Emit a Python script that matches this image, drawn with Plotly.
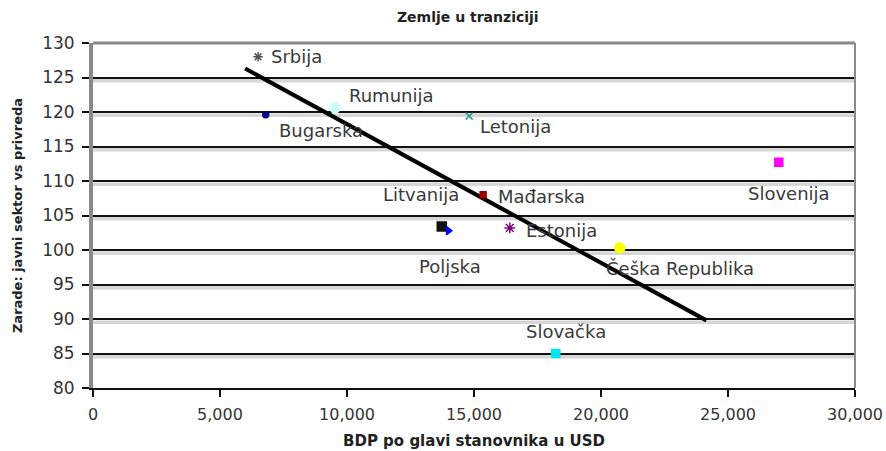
import plotly.graph_objects as go

# ---- data ----
countries = ["Srbija", "Bugarska", "Rumunija", "Letonija", "Slovenija", "Mađarska",
             "Litvanija", "Poljska", "Estonija", "Češka Republika", "Slovačka"]
gdp = [6500, 6800, 9530, 14810, 27000, 15360, 13730, 13990, 16410, 20740, 18220]
wages = [128.0, 119.6, 120.6, 119.4, 112.7, 108.0, 103.4, 102.8, 103.2, 100.3, 85.0]
trend_x = [5990, 24150]
trend_y = [126.3, 89.8]
x_ticks = [0, 5000, 10000, 15000, 20000, 25000, 30000]
y_ticks = [80, 85, 90, 95, 100, 105, 110, 115, 120, 125, 130]

# ---- styles ----
marker_styles = {
    "Srbija": dict(symbol="asterisk-open", color="#555555", size=8),
    "Bugarska": dict(symbol="circle", color="#000080", size=6),
    "Rumunija": dict(symbol="circle", color="#ccffff", size=10),
    "Letonija": dict(symbol="x-thin-open", color="#339999", size=7),
    "Slovenija": dict(symbol="square", color="#ff00ff", size=8),
    "Mađarska": dict(symbol="square", color="#990000", size=6),
    "Litvanija": dict(symbol="square", color="#111111", size=9),
    "Poljska": dict(symbol="triangle-right", color="#0000ff", size=7),
    "Estonija": dict(symbol="asterisk-open", color="#800080", size=9),
    "Češka Republika": dict(symbol="circle", color="#ffff00", size=10),
    "Slovačka": dict(symbol="square", color="#00e5ee", size=8),
}
label_shift = {
    "Srbija": (38, 0), "Bugarska": (55, -16), "Rumunija": (56, 12),
    "Letonija": (46, -10), "Slovenija": (10, -31), "Mađarska": (58, -2),
    "Litvanija": (-21, 32), "Poljska": (2, -36), "Estonija": (52, -3),
    "Češka Republika": (60, -21), "Slovačka": (10, 22),
}

fig = go.Figure()

# trend line
fig.add_trace(go.Scatter(x=trend_x, y=trend_y, mode="lines",
                         line=dict(color="#000000", width=4), showlegend=False,
                         hoverinfo="skip"))

for c, xv, yv in zip(countries, gdp, wages):
    st = marker_styles[c]
    fig.add_trace(go.Scatter(
        x=[xv], y=[yv], mode="markers", name=c, showlegend=False,
        marker=dict(symbol=st["symbol"], color=st["color"], size=st["size"],
                    line=dict(color=st["color"], width=1.5))))
    dx, dy = label_shift[c]
    fig.add_annotation(x=xv, y=yv, xref="x", yref="y", text=c, showarrow=False,
                       xshift=dx, yshift=dy,
                       font=dict(family="DejaVu Sans", size=18, color="#3a3a3a"))

shapes = []
# gray shadows under gridlines
for v in y_ticks[1:-1]:
    shapes.append(dict(type="rect", xref="paper", yref="y", x0=0, x1=1,
                       ysizemode="pixel", yanchor=v, y0=-1.5, y1=-5,
                       fillcolor="#d6d6d6", line=dict(width=0), layer="below"))
# top and right border
shapes.append(dict(type="line", xref="paper", yref="paper", x0=0, x1=1, y0=1, y1=1,
                   line=dict(color="#8a8a8a", width=3)))
shapes.append(dict(type="line", xref="paper", yref="paper", x0=1, x1=1, y0=0, y1=1,
                   line=dict(color="#8a8a8a", width=2)))

fig.update_layout(
    width=886, height=451,
    margin=dict(l=93, r=31, t=43, b=63, autoexpand=False),
    paper_bgcolor="white", plot_bgcolor="white",
    shapes=shapes,
    title=dict(text="<b>Zemlje u tranziciji</b>", x=0.528, xanchor="center",
               xref="container", yref="container", automargin=False,
               y=0.962, yanchor="middle",
               font=dict(family="DejaVu Sans", size=14, color="#222222")),
    xaxis=dict(range=[0, 30000], tickvals=x_ticks, tickformat=",d",
               showgrid=False, zeroline=False, automargin=False,
               showline=True, linecolor="#111111", linewidth=2,
               ticks="outside", ticklen=7, tickwidth=2, tickcolor="#111111",
               ticklabelstandoff=4,
               tickfont=dict(family="DejaVu Sans", size=16, color="#333333"),
               title=dict(text="<b>BDP po glavi stanovnika u USD</b>", standoff=12,
                          font=dict(family="DejaVu Sans", size=15, color="#222222"))),
    yaxis=dict(range=[80, 130], tickvals=y_ticks, automargin=False,
               showgrid=True, gridcolor="#111111", gridwidth=2, zeroline=False,
               showline=True, linecolor="#8a8a8a", linewidth=4,
               ticks="outside", ticklen=7, tickwidth=2, tickcolor="#111111",
               ticklabelstandoff=4,
               tickfont=dict(family="DejaVu Sans", size=17, color="#333333"),
               title=dict(text="<b>Zarade: javni sektor vs privreda</b>", standoff=18,
                          font=dict(family="DejaVu Sans", size=13, color="#222222"))),
)

# remove the browser's default 8px body margin so the figure fills the window exactly
fig.write_html("out.html", config={"displayModeBar": False},
               post_script="document.body.style.margin='0';document.body.style.overflow='hidden';")
